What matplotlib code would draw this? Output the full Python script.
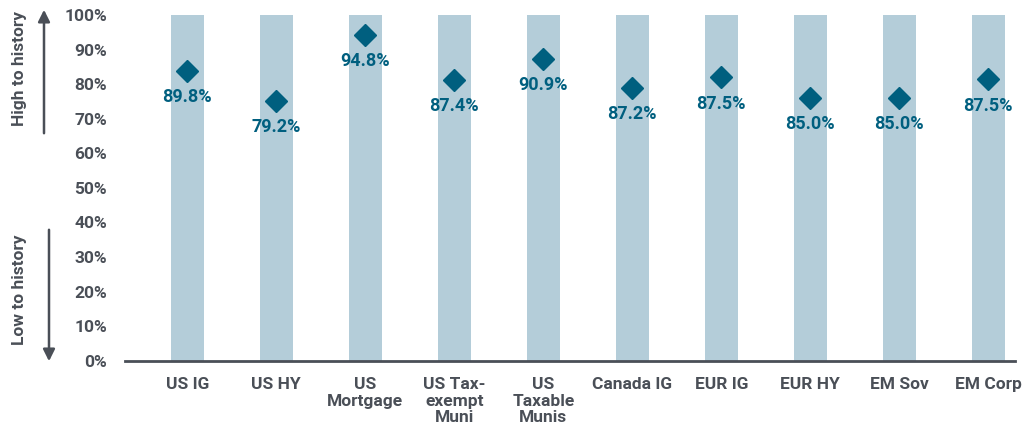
import matplotlib
matplotlib.use("Agg")
import matplotlib.pyplot as plt

categories = ["US IG", "US HY", "US\nMortgage", "US Tax-\nexempt\nMuni", "US\nTaxable\nMunis",
              "Canada IG", "EUR IG", "EUR HY", "EM Sov", "EM Corp"]
range_top = [100] * 10
diamond_pos = [83.8, 75.1, 94.2, 81.2, 87.4, 79.0, 82.0, 76.1, 76.1, 81.4]
value_labels = ["89.8%", "79.2%", "94.8%", "87.4%", "90.9%", "87.2%", "87.5%", "85.0%", "85.0%", "87.5%"]
yticks = [0, 10, 20, 30, 40, 50, 60, 70, 80, 90, 100]

BAR = "#b4cdd9"
DIAM = "#005f7f"
GRAY = "#4a4f57"
FONT = "Roboto"

fig = plt.figure(figsize=(10.35, 4.29), dpi=100)
ax = fig.add_axes([125/1035, 1 - 360.7/429, 890/1035, 345.7/429])

x = list(range(len(categories)))
ax.bar(x, range_top, width=0.37, color=BAR, zorder=1)
ax.plot(x, diamond_pos, linestyle="none", marker="D", markersize=11, color=DIAM, zorder=3)
for xi, yi, lab in zip(x, diamond_pos, value_labels):
    ax.annotate(lab, (xi, yi), xytext=(0, -19), textcoords="offset points",
                ha="center", va="center", fontsize=13, fontweight="bold",
                color=DIAM, family=FONT, zorder=4)

ax.set_xlim(-0.70, 9.30)
ax.set_ylim(0, 100)
ax.set_yticks(yticks)
ax.set_yticklabels([f"{t}%" for t in yticks], fontsize=12.5, fontweight="bold",
                   color=GRAY, family=FONT)
ax.set_xticks(x)
ax.set_xticklabels(categories, fontsize=12.5, fontweight="bold", color=GRAY,
                   family=FONT, linespacing=1.12, va="top")
ax.tick_params(axis="both", length=0)
ax.tick_params(axis="x", pad=12)
ax.tick_params(axis="y", pad=13)
for s in ["top", "right", "left"]:
    ax.spines[s].set_visible(False)
ax.spines["bottom"].set_color(GRAY)
ax.spines["bottom"].set_linewidth(2)

# side annotations
fig.text(20/1035, 1 - 69/429, "High to history", rotation=90, ha="center", va="center",
         fontsize=12.5, fontweight="bold", color=GRAY, family=FONT)
fig.text(20/1035, 1 - 290/429, "Low to history", rotation=90, ha="center", va="center",
         fontsize=12.5, fontweight="bold", color=GRAY, family=FONT)
fig.add_artist(matplotlib.patches.FancyArrowPatch(
    (44/1035, 1 - 136/429), (44/1035, 1 - 7/429), transform=fig.transFigure,
    arrowstyle="-|>,head_length=7,head_width=3.5", color=GRAY, lw=1.8, mutation_scale=1))
fig.add_artist(matplotlib.patches.FancyArrowPatch(
    (49/1035, 1 - 227/429), (49/1035, 1 - 364/429), transform=fig.transFigure,
    arrowstyle="-|>,head_length=7,head_width=3.5", color=GRAY, lw=1.8, mutation_scale=1))

fig.savefig("out.png", dpi=100, facecolor="white")
